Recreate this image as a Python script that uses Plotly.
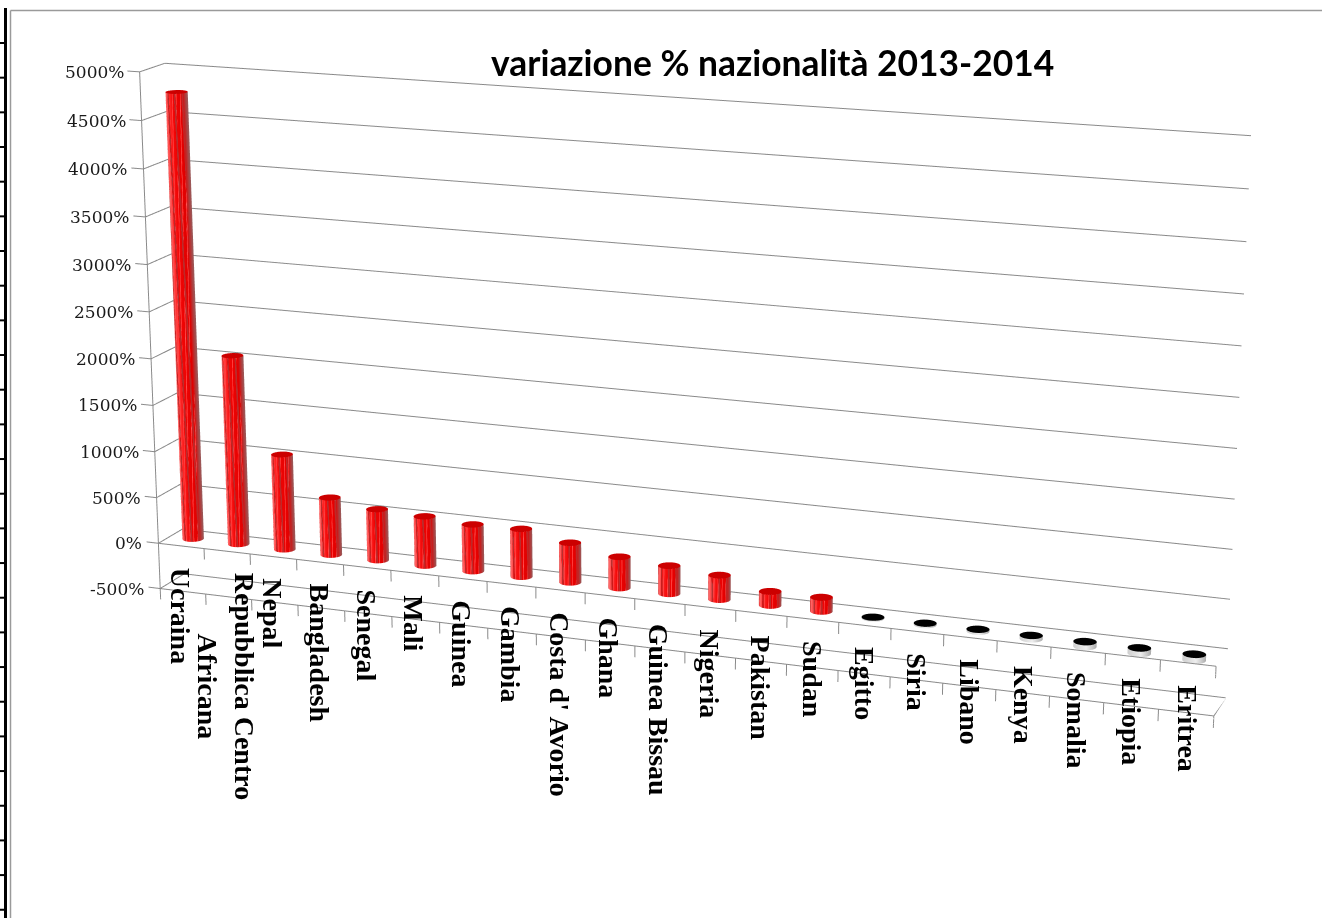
import numpy as np
import plotly.graph_objects as go

CATEGORIES = ["Ucraina", "Repubblica Centro<br>Africana", "Nepal", "Bangladesh", "Senegal", "Mali", "Guinea",
              "Gambia", "Costa d' Avorio", "Ghana", "Guinea Bissau", "Nigeria", "Pakistan", "Sudan", "Egitto",
              "Siria", "Libano", "Kenya", "Somalia", "Etiopia", "Eritrea"]
VALUES = [4765, 2040, 1030, 620, 550, 530, 500, 510, 420, 330, 295, 255, 145, 145,
          -10, -15, -20, -35, -50, -55, -60]
Z_TICKS = [-500, 0, 500, 1000, 1500, 2000, 2500, 3000, 3500, 4000, 4500, 5000]
TITLE = "variazione % nazionalità 2013-2014"

W, WIN_H = 1322, 918
XR = (-0.4, 21.0); YR = (0.0, 1.0); ZR = (-640.0, 5100.0)
span = np.array([XR[1]-XR[0], YR[1]-YR[0], ZR[1]-ZR[0]])

# Camera of the scene: narrow field of view, reached with a tall scene of which the window shows the middle
H = 3014
E = [2.1917, -5.8941, 1.65147]
C_ = [0.0376, -0.0923, -0.12163]
ASP = [2.0677, 0.098, 1.03605]
OFF = H/2 - WIN_H/2

def px(x): return x/W
def py(y): return 1-(y+OFF)/H

fig = go.Figure()

# cylinders: only the half of the side that faces the camera is built
R_X = 0.21
R_Y = R_X*(ASP[0]/span[0])/(ASP[1]/span[1])
th_side = np.radians(np.linspace(-165, 25, 96))
th_cap = np.linspace(0, 2*np.pi, 49)
RED = [[0, "#9a5a5a"], [0.1, "#b83030"], [0.2, "#e00000"], [0.6, "#f20606"], [0.8, "#ff2a2a"], [1, "#ff7a7a"]]
GREY = [[0, "#a8a8a8"], [0.5, "#eeeeee"], [1, "#d0d0d0"]]
FLAT = dict(ambient=1, diffuse=0, specular=0, roughness=1, fresnel=0)
for i, v in enumerate(VALUES):
    cx = i+0.5; cy = 0.5
    zs = np.linspace(min(0, v), max(0, v), 3+abs(v)//90)
    T, Z = np.meshgrid(th_side, zs)
    X = cx+R_X*np.cos(T); Y = cy+R_Y*np.sin(T)
    shade = 1-(np.cos(T-np.radians(20))+1)/2      # 0 at the screen-right edge, 1 at the screen-left edge
    if v > 0:
        dark = np.sin(9*T+Z/700) > 0.7
        light = np.sin(17*T-Z/450) > 0.8
        sc = np.where(light & (shade > 0.15), 0.88, shade)
        sc = np.where(dark & (shade > 0.15), 0.12, sc)
        cs = RED; capc = "#cc0000"
    else:
        sc = shade; cs = GREY; capc = "#000000"
    fig.add_trace(go.Surface(x=X, y=Y, z=Z, surfacecolor=sc, cmin=0, cmax=1, colorscale=cs, showscale=False,
                             hoverinfo="skip", lighting=FLAT))
    T2, RR = np.meshgrid(th_cap, np.array([0, 1.0]))
    fig.add_trace(go.Surface(x=cx+R_X*RR*np.cos(T2), y=cy+R_Y*RR*np.sin(T2), z=np.full(T2.shape, float(max(0, v))),
                             surfacecolor=np.zeros(T2.shape), cmin=0, cmax=1, colorscale=[[0, capc], [1, capc]],
                             showscale=False, hoverinfo="skip", lighting=FLAT))

# axes frame
x0, x1 = 0, len(VALUES); y0, y1 = 0, 1
lx, ly, lz = [], [], []
def seg(a, b):
    lx.extend([a[0], b[0], None]); ly.extend([a[1], b[1], None]); lz.extend([a[2], b[2], None])
for v in Z_TICKS:
    seg((-0.26, y0, v), (x0, y0, v)); seg((x0, y0, v), (x0, y1, v)); seg((x0, y1, v), (x1, y1, v))
seg((x0, y0, -620), (x0, y0, 5000))
seg((x0, y0, -500), (x1, y0, -500)); seg((x1, y0, -500), (x1, y1, -500))
seg((x0, y0, 0), (x1, y0, 0))
for i in range(1, x1+1):
    seg((i, y0, 0), (i, y0, -120)); seg((i, y0, -500), (i, y0, -620))
fig.add_trace(go.Scatter3d(x=lx, y=ly, z=lz, mode="lines", line=dict(color="#8a8a8a", width=2), hoverinfo="skip",
                           showlegend=False))

ann = []
for v in Z_TICKS:
    ann.append(dict(x=0, y=0, z=v, text=f"{v}%", showarrow=False, xanchor="right", yanchor="middle", xshift=-14,
                    font=dict(family="DejaVu Serif", size=17, color="#1a1a1a")))
for i, c in enumerate(CATEGORIES):
    t = "<b>"+c.replace("<br>", "</b><br><b>")+"</b>"
    ann.append(dict(x=i+0.5, y=0, z=0, text=t, showarrow=False, textangle=90, xanchor="center", yanchor="top",
                    xshift=-1, yshift=-20, font=dict(family="Liberation Serif", size=28, color="#000000")))

noax = dict(showgrid=False, showticklabels=False, showline=False, zeroline=False, showbackground=False,
            showspikes=False, title="", ticks="")
shapes = [
    dict(type="line", xref="paper", yref="paper", x0=px(10.5), x1=px(1322), y0=py(10.5), y1=py(10.5), line=dict(color="#9a9a9a", width=1.5)),
    dict(type="line", xref="paper", yref="paper", x0=px(10.5), x1=px(10.5), y0=py(10.5), y1=py(918), line=dict(color="#9a9a9a", width=1.5)),
    dict(type="line", xref="paper", yref="paper", x0=px(5.5), x1=px(5.5), y0=py(8), y1=py(918), line=dict(color="#000000", width=3)),
]
for k in range(26):
    yy = 43+34.67*k
    shapes.append(dict(type="line", xref="paper", yref="paper", x0=px(0), x1=px(5), y0=py(yy), y1=py(yy), line=dict(color="#000000", width=2)))

fig.update_layout(
    width=W, height=H, autosize=False, margin=dict(l=0, r=0, t=0, b=0), paper_bgcolor="white", showlegend=False,
    scene=dict(xaxis=dict(range=list(XR), **noax), yaxis=dict(range=list(YR), **noax), zaxis=dict(range=list(ZR), **noax),
               aspectmode="manual", aspectratio=dict(x=ASP[0], y=ASP[1], z=ASP[2]),
               camera=dict(eye=dict(x=E[0], y=E[1], z=E[2]), center=dict(x=C_[0], y=C_[1], z=C_[2]), up=dict(x=0, y=0, z=1),
                           projection=dict(type="perspective")),
               annotations=ann),
    shapes=shapes,
    annotations=[dict(xref="paper", yref="paper", x=px(772), y=py(62), text="<b>"+TITLE+"</b>", showarrow=False,
                      xanchor="center", yanchor="middle", font=dict(family="Lato", size=35.4, color="#000000"))])
post = f"var gd=document.getElementById('{{plot_id}}');gd.style.position='absolute';gd.style.left='0px';gd.style.top='{-OFF}px';document.documentElement.style.overflow='hidden';document.body.style.overflow='hidden';"
fig.write_html("out.html", config={"displayModeBar": False}, post_script=post)
